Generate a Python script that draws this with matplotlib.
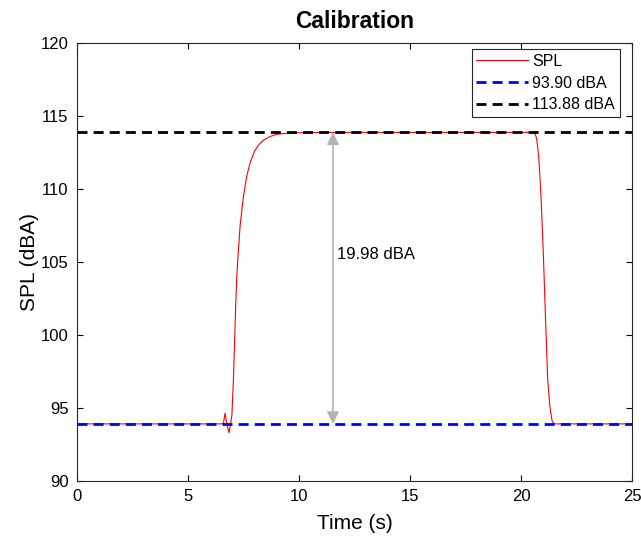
import numpy as np
import matplotlib.pyplot as plt

plt.rcParams['font.family'] = ['Liberation Sans', 'DejaVu Sans']

# SPL trace
t = [0.0, 6.5, 6.6, 6.67, 6.75, 6.85, 6.92, 6.98, 7.05, 7.1, 7.15, 7.2, 7.25,
     7.35, 7.5, 7.65, 7.8, 8.0, 8.2, 8.4, 8.7, 9.0, 9.5, 10.0, 11.0, 20.6,
     20.7, 20.8, 20.9, 21.0, 21.1, 21.2, 21.3, 21.4, 21.5, 25.0]
spl = [93.9, 93.9, 93.95, 94.64, 93.9, 93.29, 93.9, 94.5, 97.0, 99.5, 102.0, 104.0, 105.3,
       107.5, 109.5, 110.9, 111.8, 112.6, 113.05, 113.35, 113.6, 113.75, 113.83, 113.86, 113.88, 113.88,
       113.5, 112.2, 109.5, 105.8, 101.3, 97.0, 95.1, 94.1, 93.9, 93.9]

low_level = 93.90
high_level = 113.88
diff_label = '19.98 dBA'

fig, ax = plt.subplots(figsize=(6.41, 5.39), dpi=100)
fig.subplots_adjust(left=0.12, right=0.986, bottom=0.108, top=0.92)

ax.plot(t, spl, color='red', lw=0.8, label='SPL')
ax.axhline(low_level, color='blue', lw=2, ls=(0, (3.6, 2.2)), label='%.2f dBA' % low_level)
ax.axhline(high_level, color='black', lw=2, ls=(0, (3.6, 2.2)), label='%.2f dBA' % high_level)

# double arrow between the two levels
ax.annotate('', xy=(11.53, high_level), xytext=(11.53, low_level),
            arrowprops=dict(arrowstyle='<|-|>', color='#b3b3b3', lw=1.2,
                            mutation_scale=18, shrinkA=0, shrinkB=0))
ax.text(11.7, 105.5, diff_label, fontsize=12, va='center', ha='left')

ax.set_xlim(0, 25)
ax.set_ylim(90, 120)
ax.set_xticks(np.arange(0, 26, 5))
ax.set_yticks(np.arange(90, 121, 5))
ax.tick_params(direction='in', labelsize=12, length=4, top=True, right=True,
               width=0.8, pad=6)
for s in ax.spines.values():
    s.set_linewidth(0.8)
    s.set_color('#262626')

ax.set_xlabel('Time (s)', fontsize=15, labelpad=7)
ax.set_ylabel('SPL (dBA)', fontsize=15, labelpad=1)
ax.set_title('Calibration', fontsize=16.5, fontweight='bold', pad=11)

leg = ax.legend(loc='upper right', bbox_to_anchor=(0.978, 0.986), fontsize=11.5,
                fancybox=False, framealpha=1, edgecolor='#262626',
                handlelength=3.2, handletextpad=0.3, borderaxespad=0,
                borderpad=0.3, labelspacing=0.42)
leg.get_frame().set_linewidth(0.8)

plt.savefig('out.png', dpi=100)
